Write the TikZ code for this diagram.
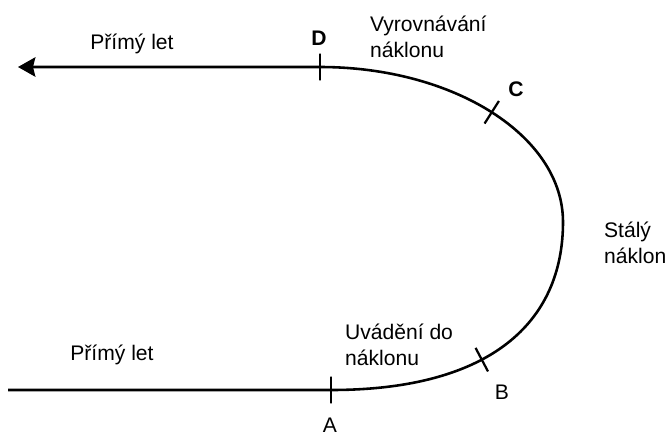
\documentclass[tikz,border=0pt]{standalone}
\usepackage{fontspec}
\setmainfont{Liberation Sans}
\usetikzlibrary{arrows.meta}
\tikzset{
  track/.style={line width=2.2pt},
  tickbar/.style={draw, fill, line width=1.9pt, inner sep=0pt, minimum width=0pt, minimum height=0.8cm},
  txt/.style={font=\fontsize{18}{22}\selectfont, align=left},
  pt/.style={font=\fontsize{18}{22}\selectfont},
  ptb/.style={font=\fontsize{18}{22}\selectfont\bfseries}
}
\begin{document}
\begin{tikzpicture}[x=0.03cm, y=-0.03cm]
\useasboundingbox (0,0) rectangle (666,437);
\coordinate (start) at (8,390); \coordinate (A) at (331,390);
\coordinate (R) at (563,222); \coordinate (D) at (320,67); \coordinate (tip) at (18,67);
% the turn
\draw [track, -{Stealth[length=0.52cm, width=0.58cm, inset=0.07cm]}] (start) -- (A)
  .. controls (491,390) and (563,322) .. node [tickbar, sloped, pos=0.4] (B) {} (R)
  .. controls (563,136) and (454,67) .. node [tickbar, sloped, pos=0.5] (C) {} (D)
  -- (tip);
\node [tickbar] (tA) at (A) {}; \node [tickbar] (tD) at (D) {};
% labels
\node [pt] (letA) at (132,44) {Přímý let}; \node [pt] (letB) at (112,355) {Přímý let};
\node [ptb] (lD) at (319,38) {D}; \node [ptb] (lC) at (516,89) {C};
\node [pt] (lB) at (502,392) {B}; \node [pt] (lA) at (330,425) {A};
\node [txt, anchor=west] (vyr) at (366,37) {Vyrovnávání\\náklonu};
\node [txt, anchor=west] (stal) at (600,243) {Stálý\\náklon};
\node [txt, anchor=west] (uvad) at (341,345) {Uvádění do\\náklonu};
\end{tikzpicture}
\end{document}
